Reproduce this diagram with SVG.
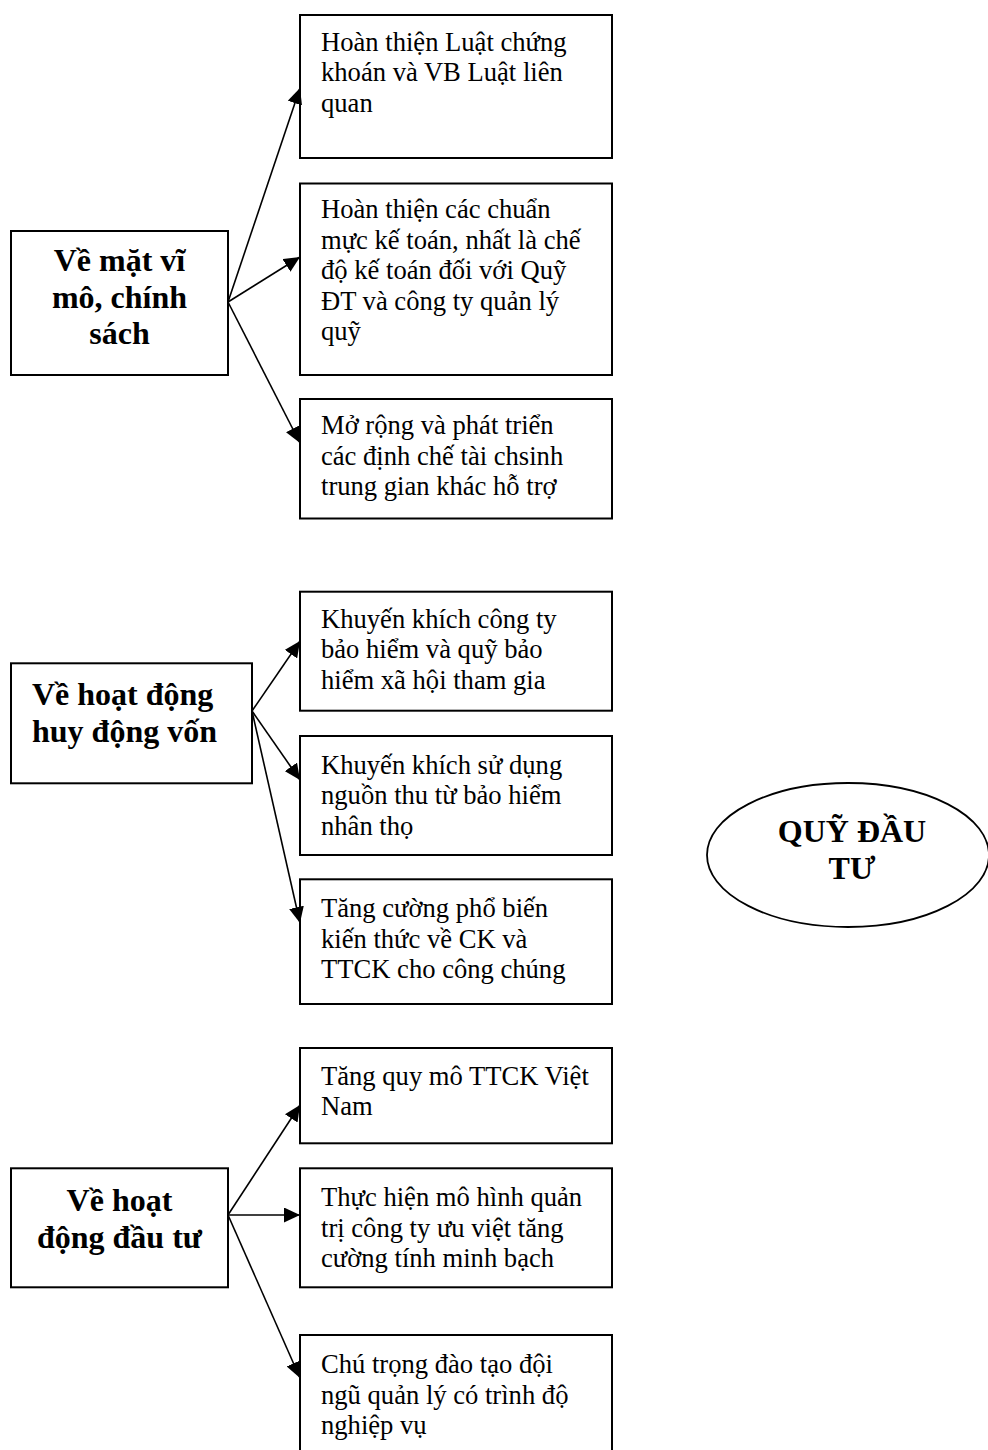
<svg xmlns="http://www.w3.org/2000/svg" width="988" height="1450" viewBox="0 0 988 1450">
<style>
.box{fill:#fff;stroke:#000;stroke-width:2}
.t{font-family:"Liberation Serif","Times New Roman",serif;font-size:26.6px;fill:#000}
.b{font-family:"Liberation Serif","Times New Roman",serif;font-size:32px;font-weight:bold;fill:#000}
.c{text-anchor:middle}
.con line{stroke:#000;stroke-width:1.6;fill:none;marker-end:url(#ah)}
</style>
<defs>
<marker id="ah" markerUnits="userSpaceOnUse" markerWidth="16" markerHeight="15" refX="16" refY="7.5" orient="auto">
<path d="M0,0 L16,7.5 L0,15 z" fill="#000"/>
</marker>
</defs>
<rect x="0" y="0" width="988" height="1450" fill="#fff"/>

<g id="L1">
<rect class="box" x="11" y="231" width="217" height="144"/>
<text class="b c" x="119.5" y="271">Về mặt vĩ</text>
<text class="b c" x="119.5" y="307.6">mô, chính</text>
<text class="b c" x="119.5" y="344.2">sách</text>
</g>
<g id="A1">
<rect class="box" x="300" y="15" width="312" height="143"/>
<text class="t" x="321" y="50.5">Hoàn thiện Luật chứng</text>
<text class="t" x="321" y="81">khoán và VB Luật liên</text>
<text class="t" x="321" y="111.5">quan</text>
</g>
<g id="A2">
<rect class="box" x="300" y="183.5" width="312" height="191.5"/>
<text class="t" x="321" y="218">Hoàn thiện các chuẩn</text>
<text class="t" x="321" y="248.5">mực kế toán, nhất là chế</text>
<text class="t" x="321" y="279">độ kế toán đối với Quỹ</text>
<text class="t" x="321" y="309.5">ĐT và công ty quản lý</text>
<text class="t" x="321" y="340">quỹ</text>
</g>
<g id="A3">
<rect class="box" x="300" y="399" width="312" height="119.5"/>
<text class="t" x="321" y="434">Mở rộng và phát triển</text>
<text class="t" x="321" y="464.5">các định chế tài chsinh</text>
<text class="t" x="321" y="495">trung gian khác hỗ trợ</text>
</g>

<g id="L2">
<rect class="box" x="11" y="663.3" width="241" height="120"/>
<text class="b" x="32" y="705">Về hoạt động</text>
<text class="b" x="32" y="742">huy động vốn</text>
</g>
<g id="B1">
<rect class="box" x="300" y="591.7" width="312" height="119"/>
<text class="t" x="321" y="627.5">Khuyến khích công ty</text>
<text class="t" x="321" y="658">bảo hiểm và quỹ bảo</text>
<text class="t" x="321" y="688.5">hiểm xã hội tham gia</text>
</g>
<g id="B2">
<rect class="box" x="300" y="736" width="312" height="119"/>
<text class="t" x="321" y="773.5">Khuyến khích sử dụng</text>
<text class="t" x="321" y="804">nguồn thu từ bảo hiểm</text>
<text class="t" x="321" y="834.5">nhân thọ</text>
</g>
<g id="B3">
<rect class="box" x="300" y="879.3" width="312" height="124.7"/>
<text class="t" x="321" y="917">Tăng cường phổ biến</text>
<text class="t" x="321" y="947.5">kiến thức về CK và</text>
<text class="t" x="321" y="978">TTCK cho công chúng</text>
</g>

<g id="L3">
<rect class="box" x="11" y="1168.3" width="217" height="119"/>
<text class="b c" x="119.5" y="1211">Về hoạt</text>
<text class="b c" x="119.5" y="1248">động đầu tư</text>
</g>
<g id="C1">
<rect class="box" x="300" y="1048" width="312" height="95.3"/>
<text class="t" x="321" y="1084.5">Tăng quy mô TTCK Việt</text>
<text class="t" x="321" y="1115">Nam</text>
</g>
<g id="C2">
<rect class="box" x="300" y="1168.3" width="312" height="119"/>
<text class="t" x="321" y="1206">Thực hiện mô hình quản</text>
<text class="t" x="321" y="1236.5">trị công ty ưu việt tăng</text>
<text class="t" x="321" y="1267">cường tính minh bạch</text>
</g>
<g id="C3">
<rect class="box" x="300" y="1335" width="312" height="130"/>
<text class="t" x="321" y="1373">Chú trọng đào tạo đội</text>
<text class="t" x="321" y="1403.5">ngũ quản lý có trình độ</text>
<text class="t" x="321" y="1434">nghiệp vụ</text>
</g>

<g id="QUY">
<ellipse cx="848" cy="855" rx="141" ry="72" fill="#fff" stroke="#000" stroke-width="1.8"/>
<text class="b c" x="852" y="842">QUỸ ĐẦU</text>
<text class="b c" x="852" y="878.5">TƯ</text>
</g>

<g id="connectors" class="con">
<line x1="228" y1="302" x2="300" y2="88"/>
<line x1="228" y1="302" x2="300" y2="257"/>
<line x1="228" y1="302" x2="300" y2="443"/>
<line x1="252" y1="711" x2="300" y2="641"/>
<line x1="252" y1="711" x2="300" y2="780"/>
<line x1="252" y1="711" x2="300" y2="923"/>
<line x1="228" y1="1215" x2="300" y2="1105"/>
<line x1="228" y1="1215" x2="300" y2="1215"/>
<line x1="228" y1="1215" x2="300" y2="1378"/>
</g>
</svg>
